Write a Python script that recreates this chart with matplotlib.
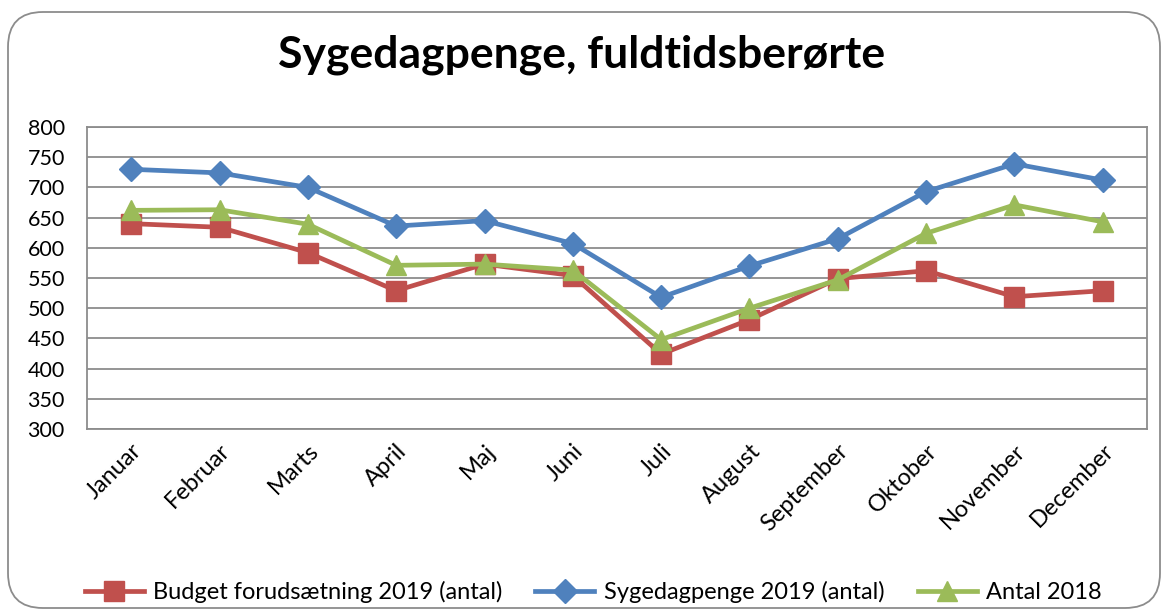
import matplotlib.pyplot as plt
from matplotlib.patches import FancyBboxPatch

months = ["Januar", "Februar", "Marts", "April", "Maj", "Juni", "Juli",
          "August", "September", "Oktober", "November", "December"]
budget_2019 = [640, 634, 592, 529, 573, 554, 424, 481, 549, 562, 519, 529]
sygedagpenge_2019 = [730, 724, 700, 636, 645, 607, 518, 570, 615, 693, 739, 712]
antal_2018 = [662, 663, 639, 571, 573, 563, 448, 500, 547, 624, 671, 643]

plt.rcParams['font.family'] = ['Lato', 'DejaVu Sans']

W, H = 1163, 613
fig = plt.figure(figsize=(W / 100, H / 100), dpi=100)

# rounded chart frame
frame = FancyBboxPatch((8 / W, 5 / H), 1152 / W, 596 / H,
                       boxstyle="round,pad=0,rounding_size=0.03",
                       transform=fig.transFigure, fill=False,
                       edgecolor="#8c8c8c", linewidth=1.3, mutation_aspect=W / H)
fig.patches.append(frame)

ax = fig.add_axes([87 / W, 1 - 429 / H, 1060 / W, 302 / H])
x = range(len(months))

ax.plot(x, budget_2019, color="#C0504D", lw=3.4, marker="s", ms=14,
        label="Budget forudsætning 2019 (antal)", zorder=3)
ax.plot(x, sygedagpenge_2019, color="#4F81BD", lw=3.4, marker="D", ms=12.5,
        label="Sygedagpenge 2019 (antal)", zorder=4)
ax.plot(x, antal_2018, color="#9BBB59", lw=3.4, marker="^", ms=15,
        label="Antal 2018", zorder=5)

ax.set_xlim(-0.5, 11.5)
ax.set_ylim(300, 800)
ax.set_yticks(range(300, 801, 50))
ax.grid(axis="y", color="#8c8c8c", lw=1.3)
ax.set_axisbelow(True)
for s in ax.spines.values():
    s.set_color("#8c8c8c")
    s.set_linewidth(1.3)
ax.tick_params(axis="both", length=0, colors="black")
ax.tick_params(axis="y", pad=16, labelsize=15.5)
ax.set_xticks(list(x))
ax.set_xticklabels(months, rotation=45, ha="right", rotation_mode="anchor")
ax.tick_params(axis="x", pad=8, labelsize=17)

fig.text(0.5, 1 - 55 / H, "Sygedagpenge, fuldtidsberørte", ha="center",
         va="center", fontsize=32, fontweight="bold")

handles, labels = ax.get_legend_handles_labels()
fig.legend(handles, labels, loc="center", bbox_to_anchor=(0.51, 1 - 592 / H),
           ncol=3, frameon=False, fontsize=17, handlelength=2.5,
           columnspacing=1.4, handletextpad=0.4)

fig.savefig("out.png", dpi=100)
